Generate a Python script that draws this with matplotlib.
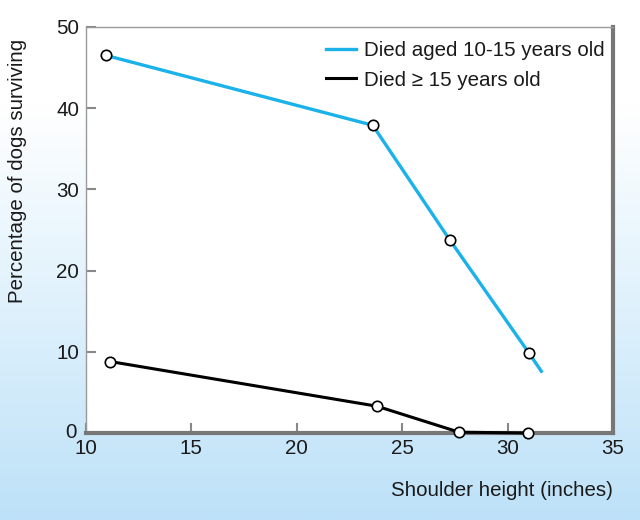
import numpy as np
import matplotlib
matplotlib.use("Agg")
import matplotlib.pyplot as plt
import matplotlib.transforms as mtransforms

plt.rcParams['font.family'] = ['Liberation Sans', 'DejaVu Sans']

# Data
young_x = [10.95, 23.6, 27.25, 31.0]
young_y = [46.5, 37.9, 23.8, 9.9]
young_line_end = (31.6, 7.6)
old_x = [11.15, 23.8, 27.7, 30.95]
old_y = [8.8, 3.3, 0.1, 0.0]
xticks = [10, 15, 20, 25, 30, 35]
yticks = [0, 10, 20, 30, 40, 50]
labels = ["Died aged 10-15 years old", "Died \u2265 15 years old"]

txt = '#1a1a1a'
fs = 14.8

fig = plt.figure(figsize=(6.4, 5.2), dpi=100)

# gradient background
bg = fig.add_axes([0, 0, 1, 1])
grad = np.linspace(0, 1, 256)[:, None]
cmap = matplotlib.colors.LinearSegmentedColormap.from_list(
    "bg", [(0, "#ffffff"), (0.2, "#ffffff"), (0.7, "#d6edfb"), (1, "#bde1f8")])
bg.imshow(grad, aspect='auto', cmap=cmap, extent=[0, 1, 0, 1], origin='upper')
bg.set_axis_off()

ax = fig.add_axes([86/640, 1-433/520, (613-86)/640, (433-27)/520])
ax.set_facecolor('white')
ax.set_xlim(10, 35)
ax.set_ylim(0, 50)

cyan = '#1ab2e8'
ax.plot(young_x + [young_line_end[0]], young_y + [young_line_end[1]],
        color=cyan, lw=2.4, label=labels[0], zorder=3)
ax.plot(young_x, young_y, ls='none', marker='o', ms=7.5, mfc='white',
        mec='black', mew=1.2, zorder=4)
ax.plot(old_x, old_y, color='black', lw=2.2, label=labels[1], zorder=3,
        clip_on=False)
ax.plot(old_x, old_y, ls='none', marker='o', ms=7.5, mfc='white',
        mec='black', mew=1.2, zorder=4, clip_on=False)

ax.set_xticks(xticks)
ax.set_yticks(yticks)
ax.tick_params(direction='in', length=7, width=1.5, color='#888888',
               labelsize=fs, labelcolor=txt)
ax.tick_params(axis='x', pad=4)
ax.tick_params(axis='y', pad=5)

# nudge the y "0" label up/left a little so it clears the x "10" label
ylab0 = ax.get_yticklabels()[0]
ylab0.set_transform(ylab0.get_transform() +
                    mtransforms.ScaledTranslation(-2/100, 3/100, fig.dpi_scale_trans))

for s in ['left', 'top']:
    ax.spines[s].set_color('#999999')
    ax.spines[s].set_linewidth(1.0)
for s in ['right', 'bottom']:
    ax.spines[s].set_color('#777777')
    ax.spines[s].set_linewidth(3.0)

ax.set_ylabel("Percentage of dogs surviving", fontsize=fs, color=txt)
ax.yaxis.set_label_coords(-0.112, 0.645)
ax.set_xlabel("Shoulder height (inches)", fontsize=fs, labelpad=17,
              loc='right', color=txt)

leg = ax.legend(loc='upper right', frameon=False, fontsize=fs,
                handlelength=1.45, handletextpad=0.4, labelspacing=0.5,
                borderaxespad=0.0, bbox_to_anchor=(1.0, 0.985),
                labelcolor=txt)

fig.savefig("out.png", dpi=100)
